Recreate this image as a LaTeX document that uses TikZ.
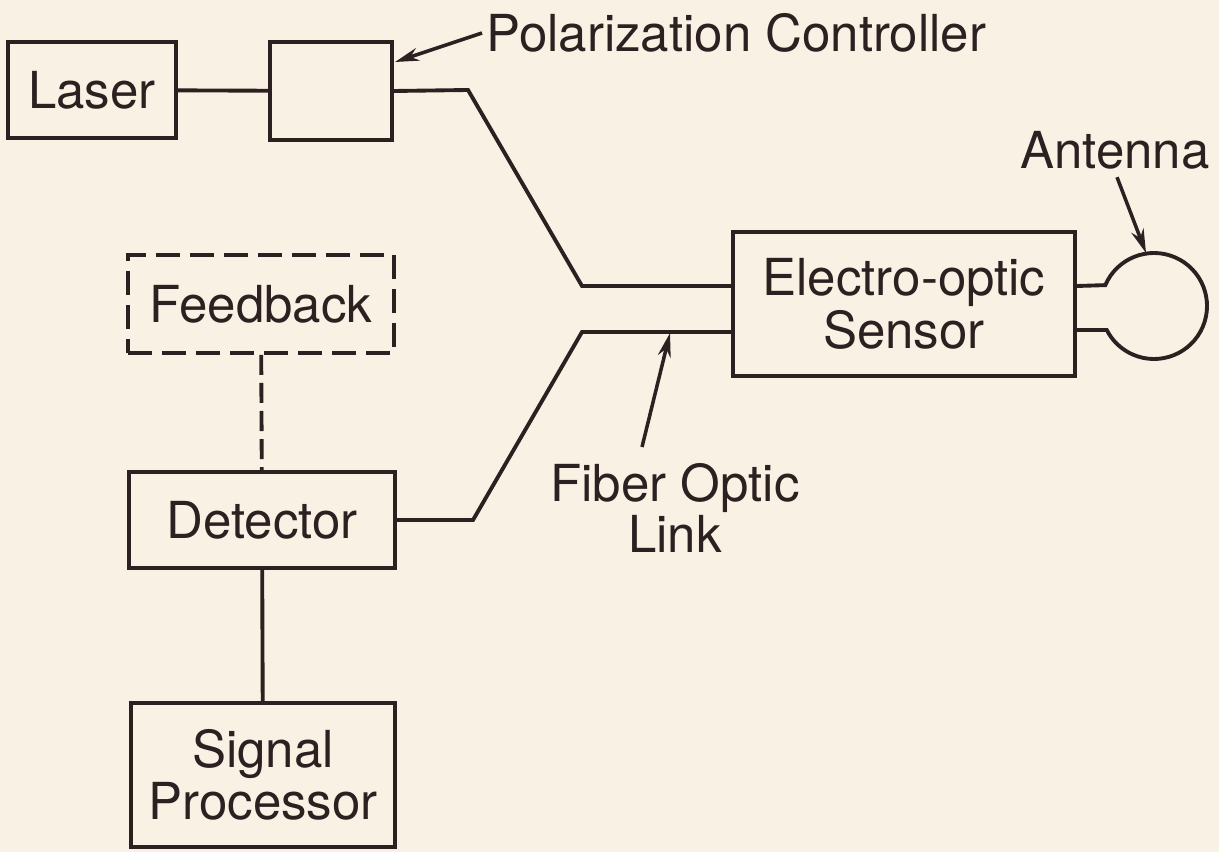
\documentclass[tikz,border=0pt]{standalone}
\usepackage{fontspec}
\setmainfont{TeX Gyre Heros}
\usetikzlibrary{positioning,arrows.meta,calc}
\definecolor{paper}{RGB}{250,241,229}
\definecolor{ink}{RGB}{44,32,32}
\tikzset{
  blk/.style={draw=ink,line width=1.1pt,inner sep=0pt,align=center,text=ink},
  fbblk/.style={blk,dash pattern=on 2.4mm off 1mm},
  fiber/.style={draw=ink,line width=1.1pt,line join=miter},
  lnk/.style={draw=ink,line width=1.1pt},
  fblnk/.style={lnk,dash pattern=on 2mm off 0.8mm},
  pointer/.style={draw=ink,line width=1pt,-{Stealth[length=2.4mm,width=1.3mm]}},
  lbl/.style={text=ink,align=center,inner sep=1pt},
}
\begin{document}
\begin{tikzpicture}[x=0.01cm,y=-0.01cm,font=\fontsize{14.5}{13.5}\selectfont]
  \fill[paper] (0,0) rectangle (1219,852);
  \useasboundingbox (0,0) rectangle (1219,852);
  % boxes
  \node[blk,minimum width=1.68cm,minimum height=0.96cm] (laser) at (92,90) {Laser};
  \node[blk,minimum width=1.22cm,minimum height=0.98cm] (pc) at (331,91) {};
  \node[blk,minimum width=3.42cm,minimum height=1.44cm] (sensor) at (904,304) {Electro-optic\\Sensor};
  \node[fbblk,minimum width=2.66cm,minimum height=0.98cm] (feedback) at (261,304) {Feedback};
  \node[blk,minimum width=2.65cm,minimum height=0.96cm] (detector) at (262,520) {Detector};
  \node[blk,minimum width=2.64cm,minimum height=1.44cm] (sigproc) at (263,775) {Signal\\Processor};
  % labels
  \node[lbl,anchor=west] (pclbl) at (482,33) {Polarization Controller};
  \node[lbl] (antlbl) at (1115,150) {Antenna};
  \node[lbl] (fiberlbl) at (675,508) {Fiber Optic\\Link};
  % fiber runs
  \coordinate (upbend) at (468,90);
  \coordinate (upin) at (582,286);
  \coordinate (lowbend) at (473,520);
  \coordinate (lowin) at (582,332);
  \draw[lnk] (laser) -- (pc);
  \draw[fiber] (pc.east) -- (upbend) -- (upin) -- (upin -| sensor.west);
  \draw[fiber] (detector.east) -- (lowbend) -- (lowin) -- (lowin -| sensor.west);
  \draw[fblnk] (feedback) -- (detector);
  \draw[lnk] (detector) -- (sigproc);
  % antenna loop
  \coordinate (antc) at (1154,306);
  \coordinate (anta) at ($(antc)+(203.2:53)$);
  \coordinate (antb) at ($(antc)+(153:53)$);
  \draw[fiber] (upin -| sensor.east) -- (anta)
    arc[start angle=203.2,end angle=513,radius=53] -- (antb -| sensor.east);
  % pointers
  \coordinate (pctip) at (395,62);
  \coordinate (anttip) at (1146,253);
  \coordinate (fibertail) at (642,447);
  \coordinate (fibertip) at (670,333);
  \draw[pointer] (pclbl.west) -- (pctip);
  \draw[pointer] (antlbl.south) ++(2,4) -- (anttip);
  \draw[pointer] (fibertail) -- (fibertip);
\end{tikzpicture}
\end{document}
